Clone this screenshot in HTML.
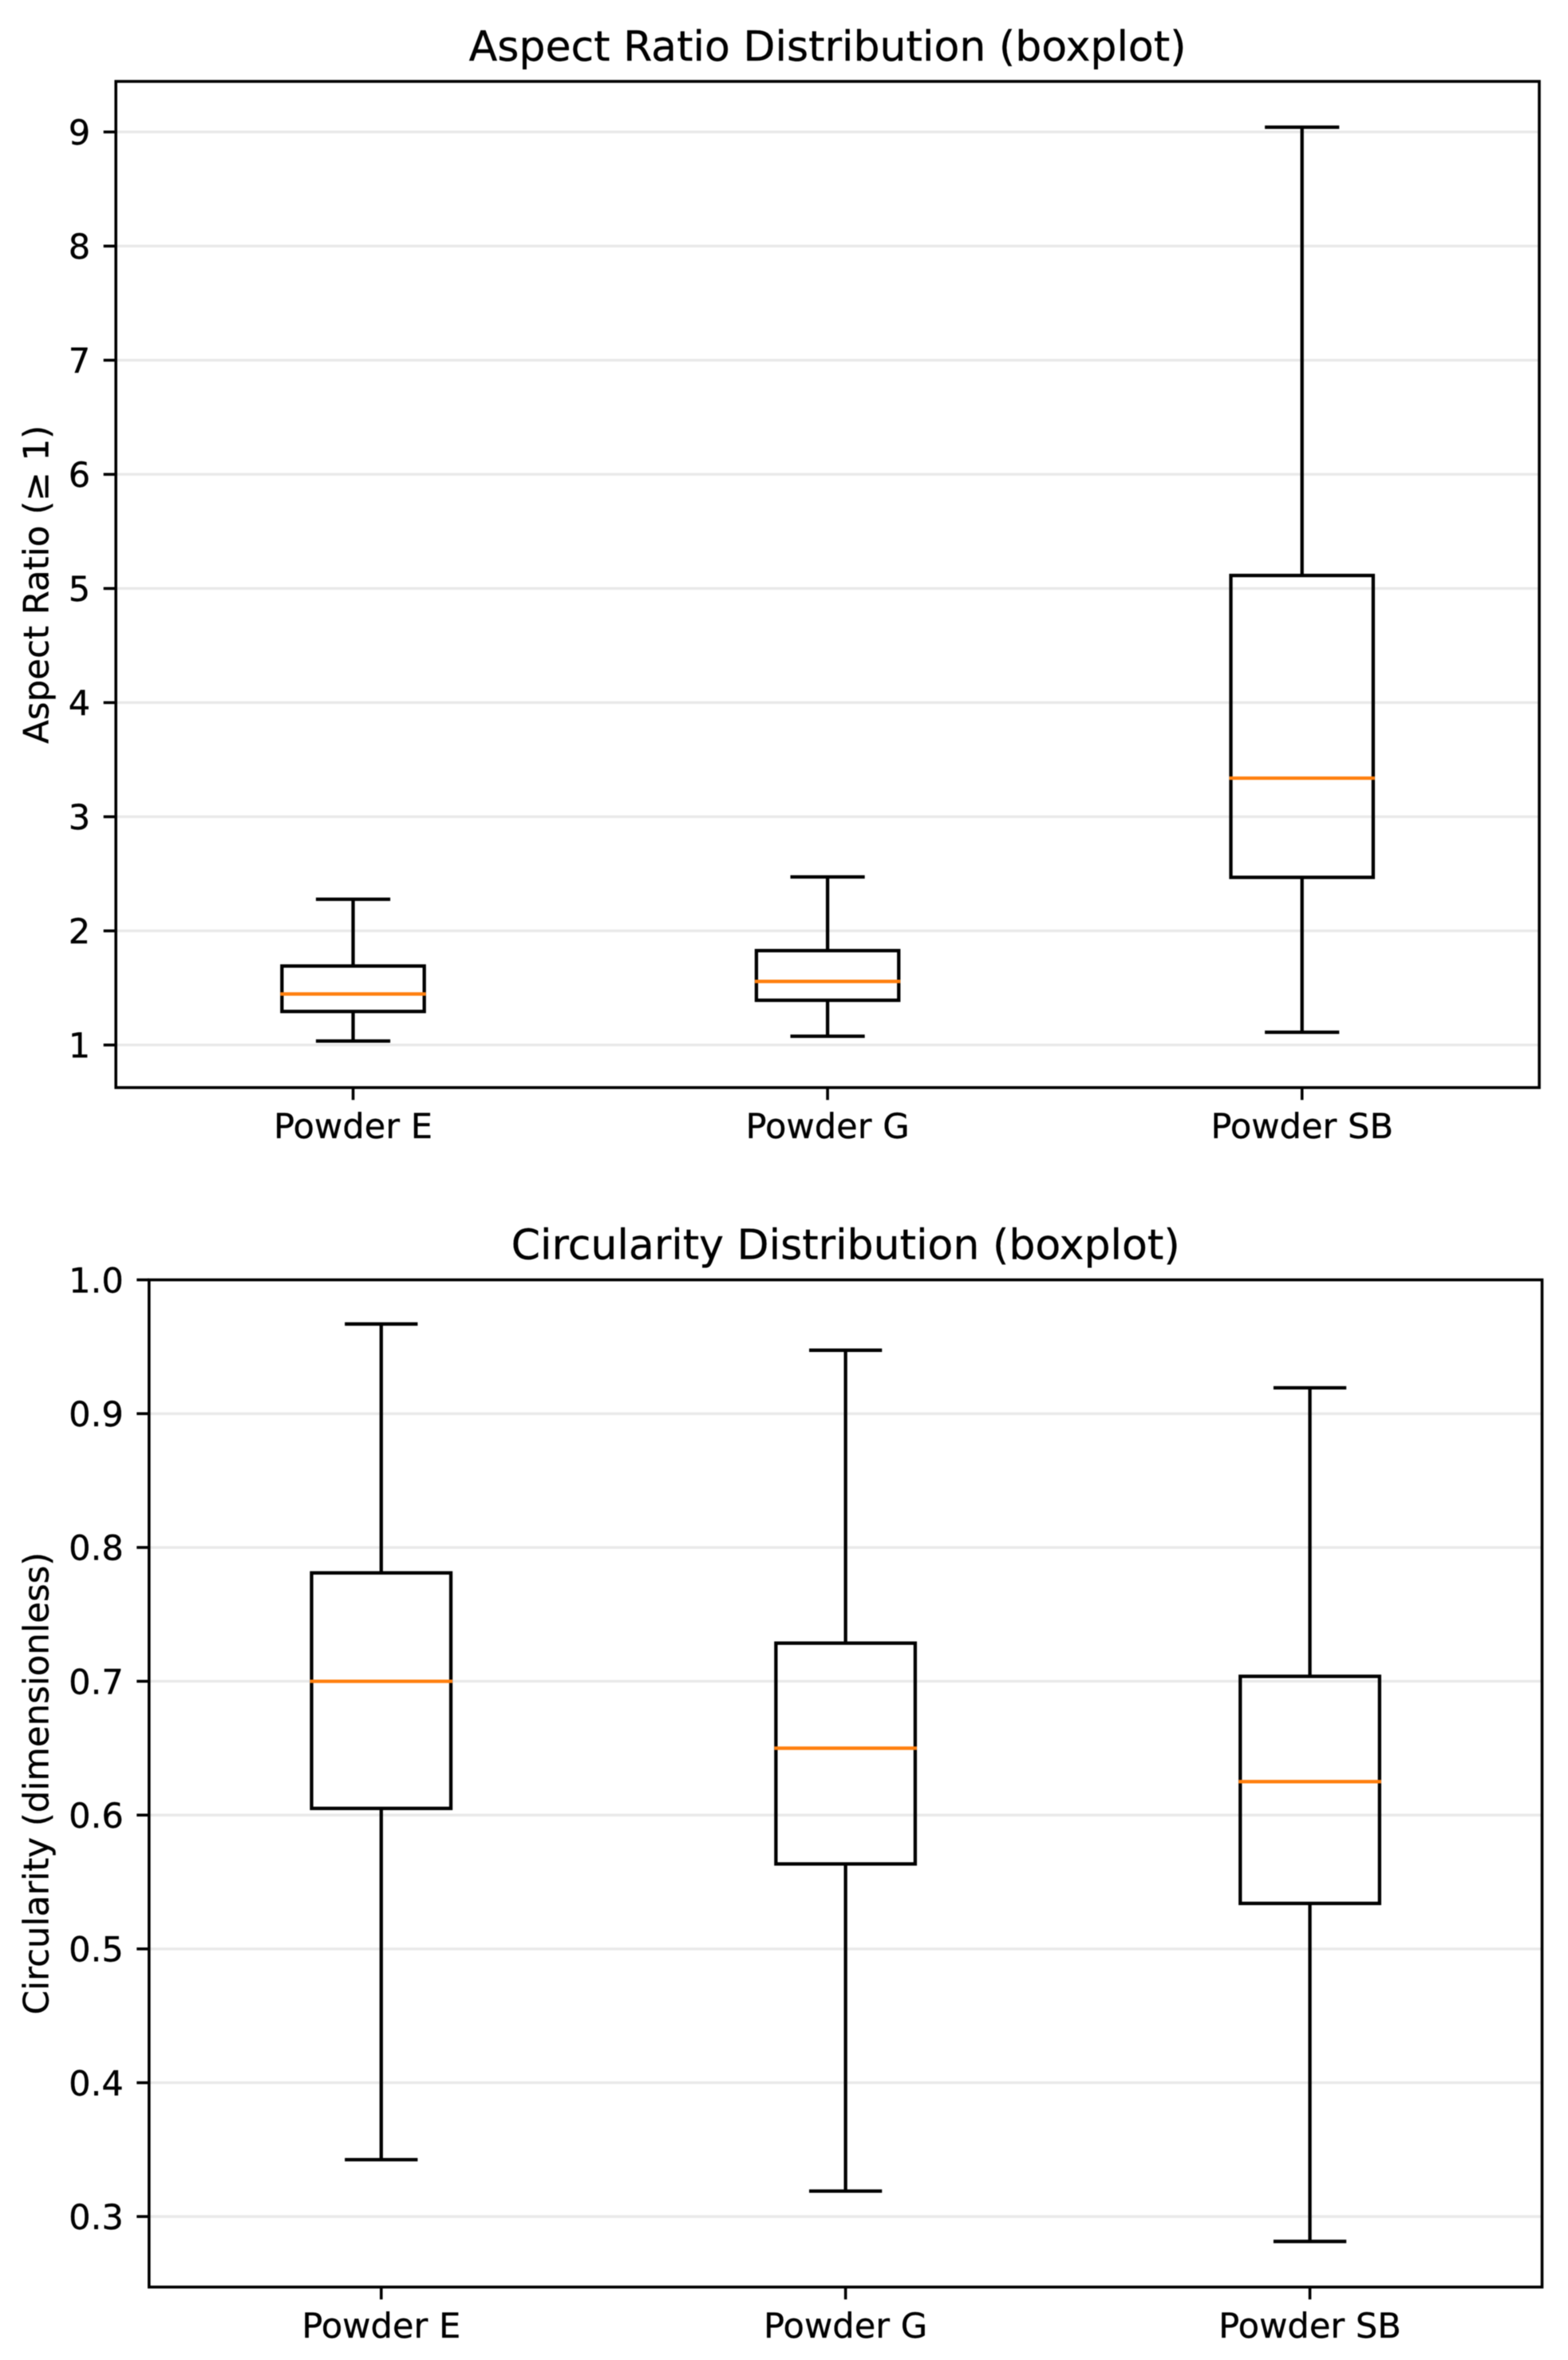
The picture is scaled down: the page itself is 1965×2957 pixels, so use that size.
<!DOCTYPE html>
<html lang="en">
<head>
<meta charset="utf-8">
<title>Aspect Ratio and Circularity Distributions</title>
<style>
html,body{margin:0;padding:0;background:#fff;width:1965px;height:2957px;overflow:hidden}
svg{display:block;filter:blur(0.6px)}
text{font-family:"DejaVu Sans","Liberation Sans",sans-serif;fill:#000;stroke:#000;stroke-width:0.35px;text-rendering:geometricPrecision}
</style>
</head>
<body>
<svg id="figure" xmlns="http://www.w3.org/2000/svg" width="1965" height="2957" viewBox="0 0 1965 2957"></svg>
<script>
const categories = ['Powder E', 'Powder G', 'Powder SB'];

const aspectTicks = [1, 2, 3, 4, 5, 6, 7, 8, 9];
const aspectWhiskerLow = [1.035, 1.077, 1.112];
const aspectQ1 = [1.294, 1.392, 2.469];
const aspectMedian = [1.447, 1.557, 3.338];
const aspectQ3 = [1.692, 1.827, 5.114];
const aspectWhiskerHigh = [2.277, 2.473, 9.042];

const circularityTicks = [0.3, 0.4, 0.5, 0.6, 0.7, 0.8, 0.9, 1.0];
const circularityWhiskerLow = [0.3425, 0.319, 0.2814];
const circularityQ1 = [0.605, 0.5635, 0.534];
const circularityMedian = [0.7, 0.65, 0.625];
const circularityQ3 = [0.781, 0.7285, 0.7037];
const circularityWhiskerHigh = [0.967, 0.9474, 0.9193];

const NS = 'http://www.w3.org/2000/svg';
const fig = document.getElementById('figure');

function make(parent, tag, attrs, content) {
  const node = document.createElementNS(NS, tag);
  for (const k in attrs) node.setAttribute(k, attrs[k]);
  if (content !== undefined) node.textContent = content;
  parent.appendChild(node);
  return node;
}

function drawPanel(cfg) {
  const x = i => cfg.left + ((i + 1 - 0.5) / 3) * (cfg.right - cfg.left);
  const y = v => cfg.bottom - ((v - cfg.yMin) / (cfg.yMax - cfg.yMin)) * (cfg.bottom - cfg.top);
  const unit = (cfg.right - cfg.left) / 3;
  const boxW = unit * 0.3;
  const capW = unit * 0.15;

  const g = make(fig, 'g', {});
  
  

  cfg.ticks.forEach(t => {
    const grid = make(g, 'line', { x1: cfg.left, x2: cfg.right, y1: y(t), y2: y(t), stroke: '#e9e9e9', 'stroke-width': 3.4 });
    
    
  });

  categories.forEach((name, i) => {
    const cx = x(i);
    const box = make(g, 'g', {});
    
    
    const sw = { stroke: '#000', 'stroke-width': 4.3, fill: 'none' };

    const whiskerHigh = make(box, 'line', Object.assign({ x1: cx, x2: cx, y1: y(cfg.q3[i]), y2: y(cfg.high[i]) }, sw));
    
    

    const whiskerLow = make(box, 'line', Object.assign({ x1: cx, x2: cx, y1: y(cfg.q1[i]), y2: y(cfg.low[i]) }, sw));
    
    

    const capHigh = make(box, 'line', Object.assign({ x1: cx - capW / 2 - 2, x2: cx + capW / 2 + 2, y1: y(cfg.high[i]), y2: y(cfg.high[i]) }, sw));
    
    

    const capLow = make(box, 'line', Object.assign({ x1: cx - capW / 2 - 2, x2: cx + capW / 2 + 2, y1: y(cfg.low[i]), y2: y(cfg.low[i]) }, sw));
    
    

    const rect = make(box, 'rect', Object.assign({ x: cx - boxW / 2, width: boxW, y: y(cfg.q3[i]), height: y(cfg.q1[i]) - y(cfg.q3[i]) }, sw));
    
    

    const med = make(box, 'line', { x1: cx - boxW / 2 - 2, x2: cx + boxW / 2 + 2, y1: y(cfg.median[i]), y2: y(cfg.median[i]), stroke: '#ff7f0e', 'stroke-width': 4.3 });
    
    

    const xTick = make(g, 'line', { x1: cx, x2: cx, y1: cfg.bottom, y2: cfg.bottom + 15.5, stroke: '#000', 'stroke-width': 3.6 });
    
    

    const xLabel = make(g, 'text', { x: cx, y: cfg.bottom + 63.5, 'text-anchor': 'middle', 'font-size': 43.2 }, name);
    
    
  });

  cfg.ticks.forEach(t => {
    const yTick = make(g, 'line', { x1: cfg.left - 15.5, x2: cfg.left, y1: y(t), y2: y(t), stroke: '#000', 'stroke-width': 3.6 });
    
    

    const yLabel = make(g, 'text', { x: cfg.left - 32, y: y(t) + 15.7, 'text-anchor': 'end', 'font-size': 43.2 }, cfg.format(t));
    
    
  });

  const frame = make(g, 'rect', { x: cfg.left, y: cfg.top, width: cfg.right - cfg.left, height: cfg.bottom - cfg.top, fill: 'none', stroke: '#000', 'stroke-width': 3.6 });
  
  

  const title = make(g, 'text', { x: (cfg.left + cfg.right) / 2, y: cfg.top - 26, 'text-anchor': 'middle', 'font-size': 52.1 }, cfg.title);
  
  

  const cy = (cfg.top + cfg.bottom) / 2;
  const yTitle = make(g, 'text', { x: 60.5, y: cy, 'text-anchor': 'middle', 'font-size': 43.5, transform: 'rotate(-90 60.5 ' + cy + ')' }, cfg.yTitle);
  
  
}

drawPanel({
  key: 'aspect-ratio',
  title: 'Aspect Ratio Distribution (boxplot)',
  yTitle: 'Aspect Ratio (\u2265 1)',
  left: 145.2, right: 1929, top: 102, bottom: 1362.7,
  yMin: 0.627, yMax: 9.443,
  ticks: aspectTicks,
  format: t => String(t),
  low: aspectWhiskerLow, q1: aspectQ1, median: aspectMedian, q3: aspectQ3, high: aspectWhiskerHigh
});

drawPanel({
  key: 'circularity',
  title: 'Circularity Distribution (boxplot)',
  yTitle: 'Circularity (dimensionless)',
  left: 186.8, right: 1932.5, top: 1603.6, bottom: 2865.6,
  yMin: 0.2473, yMax: 1.0,
  ticks: circularityTicks,
  format: t => t.toFixed(1),
  low: circularityWhiskerLow, q1: circularityQ1, median: circularityMedian, q3: circularityQ3, high: circularityWhiskerHigh
});
</script>
</body>
</html>
